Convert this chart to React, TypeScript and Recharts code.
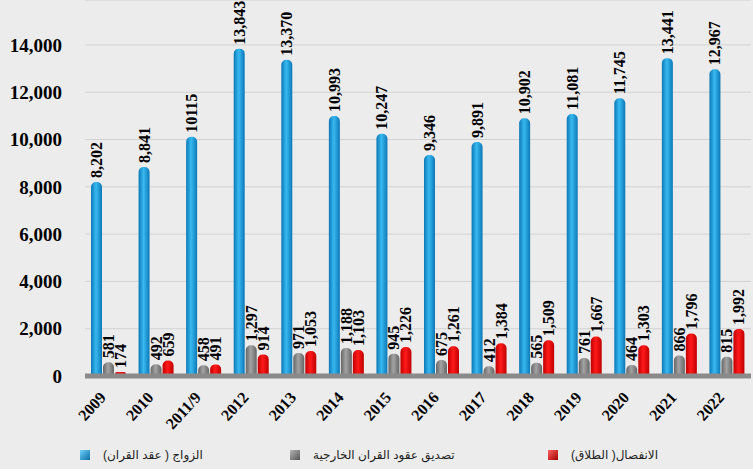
import { Bar, BarChart, CartesianGrid, LabelList, Legend, XAxis, YAxis } from "recharts";

const years = ["2009", "2010", "2011/9", "2012", "2013", "2014", "2015", "2016", "2017", "2018", "2019", "2020", "2021", "2022"];
const marriage = [8202, 8841, 10115, 13843, 13370, 10993, 10247, 9346, 9891, 10902, 11081, 11745, 13441, 12967];
const marriageText = ["8,202", "8,841", "10115", "13,843", "13,370", "10,993", "10,247", "9,346", "9,891", "10,902", "11,081", "11,745", "13,441", "12,967"];
const foreign = [581, 492, 458, 1297, 971, 1188, 945, 675, 412, 565, 761, 464, 866, 815];
const divorce = [174, 659, 491, 914, 1053, 1103, 1226, 1261, 1384, 1509, 1667, 1303, 1796, 1992];
const yTicks = [0, 2000, 4000, 6000, 8000, 10000, 12000, 14000];

const seriesNames = ["الزواج ( عقد القران)", "تصديق عقود القران  الخارجية", "الانفصال( الطلاق)"];

const data = years.map((year, i) => ({
  year,
  marriage: marriage[i],
  marriageText: marriageText[i],
  foreign: foreign[i],
  divorce: divorce[i],
}));

const serif = "'Liberation Serif', 'Times New Roman', serif";

function BarValue(props: any) {
  const { x, y, width, value } = props;
  const cx = Number(x) + Number(width) / 2;
  const cy = Number(y) - 4;
  const text = typeof value === "number" ? value.toLocaleString("en-US") : value;
  return (
    <text x={cx} y={cy} transform={`rotate(-90, ${cx}, ${cy})`} textAnchor="start"
      dominantBaseline="central" fontSize={16} fontWeight="bold" fontFamily={serif} fill="#000">
      {text}
    </text>
  );
}

function YearTick(props: any) {
  const { x, y, payload } = props;
  return (
    <text transform={`translate(${x - 2},${y + 14}) rotate(-48)`} textAnchor="end"
      fontSize={16} fontWeight="bold" fontFamily={serif} fill="#000">
      {payload.value}
    </text>
  );
}

// legend drawn in series order (Recharts would sort it by name)
const legendLeft = [80, 290, 548];
const legendSwatch = [
  "linear-gradient(135deg, #6fd0f7, #0a6fa8)",
  "linear-gradient(135deg, #b5b5b5, #555)",
  "linear-gradient(135deg, #ff6060, #a00000)",
];

function LegendRow() {
  return (
    <div style={{ position: "relative", width: 753, height: 28 }}>
      {seriesNames.map((name, i) => (
        <div key={name} style={{ position: "absolute", left: legendLeft[i], top: 7, display: "flex", alignItems: "center" }}>
          <span style={{ display: "inline-block", width: 10, height: 10, background: legendSwatch[i] }} />
          <span style={{ marginLeft: 13, direction: "rtl", fontSize: 12, color: "#222", fontFamily: "Arial, 'DejaVu Sans', sans-serif" }}>
            {name}
          </span>
        </div>
      ))}
    </div>
  );
}

export default function App() {
  return (
    <div style={{ position: "absolute", left: 0, top: 0, width: 753, height: 469, background: "#ececec" }}>
      <BarChart width={753} height={469} data={data} margin={{ top: 0, right: 2, left: 0, bottom: 0 }} barSize={11} barGap={1}>
        <defs>
          <linearGradient id="gBlue" x1="0" y1="0" x2="1" y2="0">
            <stop offset="0%" stopColor="#0b78b8" />
            <stop offset="45%" stopColor="#38b9f0" />
            <stop offset="100%" stopColor="#0b78b8" />
          </linearGradient>
          <linearGradient id="gGrey" x1="0" y1="0" x2="1" y2="0">
            <stop offset="0%" stopColor="#666" />
            <stop offset="45%" stopColor="#a3a3a3" />
            <stop offset="100%" stopColor="#666" />
          </linearGradient>
          <linearGradient id="gRed" x1="0" y1="0" x2="1" y2="0">
            <stop offset="0%" stopColor="#c00000" />
            <stop offset="45%" stopColor="#ff1a1a" />
            <stop offset="100%" stopColor="#c00000" />
          </linearGradient>
        </defs>
        <CartesianGrid vertical={false} stroke="#d2d2d2" />
        <XAxis dataKey="year" height={65} tick={<YearTick />} tickLine={false} interval={0}
          axisLine={{ stroke: "#8a8a8a", strokeWidth: 5 }} />
        <YAxis width={85} domain={[0, 15900]} ticks={yTicks} axisLine={false} tickLine={false} tickMargin={17}
          tickFormatter={(v: number) => v.toLocaleString("en-US")}
          tick={{ fontSize: 19, fontWeight: "bold", fontFamily: serif, fill: "#000" }} />
        <Legend verticalAlign="bottom" content={<LegendRow />} wrapperStyle={{ left: 0, width: 753, height: 28 }} />
        <Bar dataKey="marriage" name={seriesNames[0]} fill="url(#gBlue)" radius={[5, 5, 0, 0]} isAnimationActive={false}>
          <LabelList dataKey="marriageText" content={<BarValue />} />
        </Bar>
        <Bar dataKey="foreign" name={seriesNames[1]} fill="url(#gGrey)" radius={[5, 5, 0, 0]} isAnimationActive={false}>
          <LabelList dataKey="foreign" content={<BarValue />} />
        </Bar>
        <Bar dataKey="divorce" name={seriesNames[2]} fill="url(#gRed)" radius={[5, 5, 0, 0]} isAnimationActive={false}>
          <LabelList dataKey="divorce" content={<BarValue />} />
        </Bar>
      </BarChart>
    </div>
  );
}
